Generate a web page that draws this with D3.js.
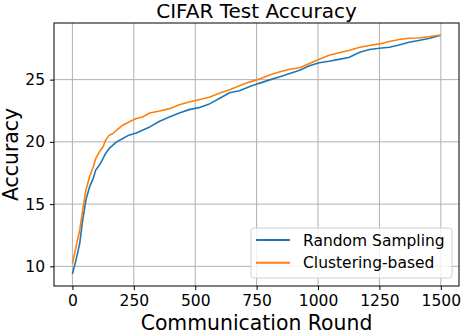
<!DOCTYPE html>
<html>
<head>
<meta charset="utf-8">
<script src="https://cdn.jsdelivr.net/npm/d3@7"></script>
<style>
	body { margin: 0; background: #fff; }
	svg { display: block; font-family: "DejaVu Sans", sans-serif; }
	.tick text { font-size: 15.5px; fill: #000; }
</style>
</head>
<body>
<svg id="vis_canvas" width="463" height="336"></svg>
<script>
let rounds = [0, 15, 30, 40, 55, 70, 85, 95, 110, 125, 135, 150, 165, 180, 205, 230, 260, 285, 315,
	355, 395, 435, 475, 515, 560, 600, 640, 680, 720, 760, 800, 845, 885, 925, 965, 1005, 1045,
	1085, 1125, 1170, 1210, 1250, 1290, 1330, 1370, 1410, 1455, 1499];

// Test accuracy for each method.
let random_sampling = [9.39, 10.54, 11.87, 13.47, 15.34, 16.4, 17.07, 17.74, 18.14, 18.67, 19.07, 19.47, 19.74, 20.0, 20.27, 20.54, 20.72, 20.94, 21.2,
	21.66, 22.0, 22.32, 22.59, 22.75, 23.07, 23.5, 23.95, 24.1, 24.42, 24.7, 24.96, 25.23, 25.5, 25.76, 26.11, 26.35, 26.48,
	26.63, 26.78, 27.2, 27.42, 27.52, 27.6, 27.79, 28.0, 28.14, 28.32, 28.56];
let clustering_based = [10.22, 11.6, 12.94, 14.27, 16.14, 17.2, 18.0, 18.67, 19.2, 19.6, 20.14, 20.54, 20.67, 20.94, 21.34, 21.6, 21.87, 22.0, 22.32,
	22.48, 22.67, 22.99, 23.2, 23.39, 23.6, 23.92, 24.19, 24.5, 24.8, 25.04, 25.36, 25.63, 25.84, 25.95, 26.3, 26.64, 26.96,
	27.16, 27.34, 27.6, 27.74, 27.87, 28.06, 28.22, 28.32, 28.35, 28.46, 28.59];

let series_names = ["Random Sampling", "Clustering-based"];
let series_colors = ["#1f77b4", "#ff7f0e"];
let x_ticks = [0, 250, 500, 750, 1000, 1250, 1500];
let y_ticks = [10, 15, 20, 25];

// Plot box.
let box = {left: 54, right: 459, top: 23, bottom: 286};

let svg = d3.select("#vis_canvas");

// Scales with matplotlib-like 5% padding.
let x = d3.scaleLinear().domain([-75, 1574]).range([box.left, box.right]);
let y = d3.scaleLinear().domain([8.42, 29.55]).range([box.bottom, box.top]);

// Grid lines first.
svg.append("g")
	.selectAll("line")
	.data(x_ticks)
	.enter().append("line")
	.attr("x1", d => x(d)).attr("x2", d => x(d))
	.attr("y1", box.top).attr("y2", box.bottom)
	.attr("stroke", "#b0b0b0").attr("stroke-width", 1);
svg.append("g")
	.selectAll("line")
	.data(y_ticks)
	.enter().append("line")
	.attr("x1", box.left).attr("x2", box.right)
	.attr("y1", d => y(d)).attr("y2", d => y(d))
	.attr("stroke", "#b0b0b0").attr("stroke-width", 1);

// Lines.
let all_series = [random_sampling, clustering_based];
let line = d3.line()
	.x((d, i) => x(rounds[i]))
	.y(d => y(d));
for (let i = 0; i < all_series.length; i++) {
	svg.append("path")
		.datum(all_series[i])
		.attr("fill", "none")
		.attr("stroke", series_colors[i])
		.attr("stroke-width", 1.6)
		.attr("stroke-linejoin", "round")
		.attr("d", line);
}

// Axes.
let x_axis = svg.append("g")
	.attr("transform", "translate(0," + box.bottom + ")")
	.call(d3.axisBottom(x).tickValues(x_ticks).tickFormat(d3.format("d"))
		.tickSize(4).tickPadding(5).tickSizeOuter(0));
let y_axis = svg.append("g")
	.attr("transform", "translate(" + box.left + ",0)")
	.call(d3.axisLeft(y).tickValues(y_ticks).tickFormat(d3.format("d"))
		.tickSize(4).tickPadding(5).tickSizeOuter(0));
[x_axis, y_axis].forEach(function (a) {
	a.attr("font-family", null).attr("font-size", null);
	a.select(".domain").remove();
	a.selectAll(".tick line").attr("stroke", "#000").attr("stroke-width", 1);
});

// Frame.
svg.append("rect")
	.attr("x", box.left).attr("y", box.top)
	.attr("width", box.right - box.left).attr("height", box.bottom - box.top)
	.attr("fill", "none").attr("stroke", "#000").attr("stroke-width", 1);

// Title and labels.
svg.append("text")
	.attr("x", (box.left + box.right) / 2).attr("y", 17.5)
	.style("text-anchor", "middle").style("font-size", "20px")
	.text("CIFAR Test Accuracy");
svg.append("text")
	.attr("x", (box.left + box.right) / 2).attr("y", 330)
	.style("text-anchor", "middle").style("font-size", "20.4px")
	.text("Communication Round");
svg.append("text")
	.attr("transform", "translate(18," + ((box.top + box.bottom) / 2) + ") rotate(-90)")
	.style("text-anchor", "middle").style("font-size", "20.4px")
	.text("Accuracy");

// Legend.
let legend = svg.append("g").attr("transform", "translate(251,228)");
legend.append("rect")
	.attr("width", 201).attr("height", 50).attr("rx", 3)
	.attr("fill", "#fff").attr("fill-opacity", 0.8)
	.attr("stroke", "#d0d0d0").attr("stroke-width", 1);
let items = legend.selectAll(".item")
	.data(series_names)
	.enter().append("g")
	.attr("transform", (d, i) => "translate(0," + (12 + i * 22.7) + ")");
items.append("line")
	.attr("x1", 5).attr("x2", 39)
	.attr("stroke", (d, i) => series_colors[i]).attr("stroke-width", 2);
items.append("text")
	.attr("x", 52).attr("y", 5.5)
	.style("font-size", "15.5px")
	.text(d => d);
</script>
</body>
</html>
